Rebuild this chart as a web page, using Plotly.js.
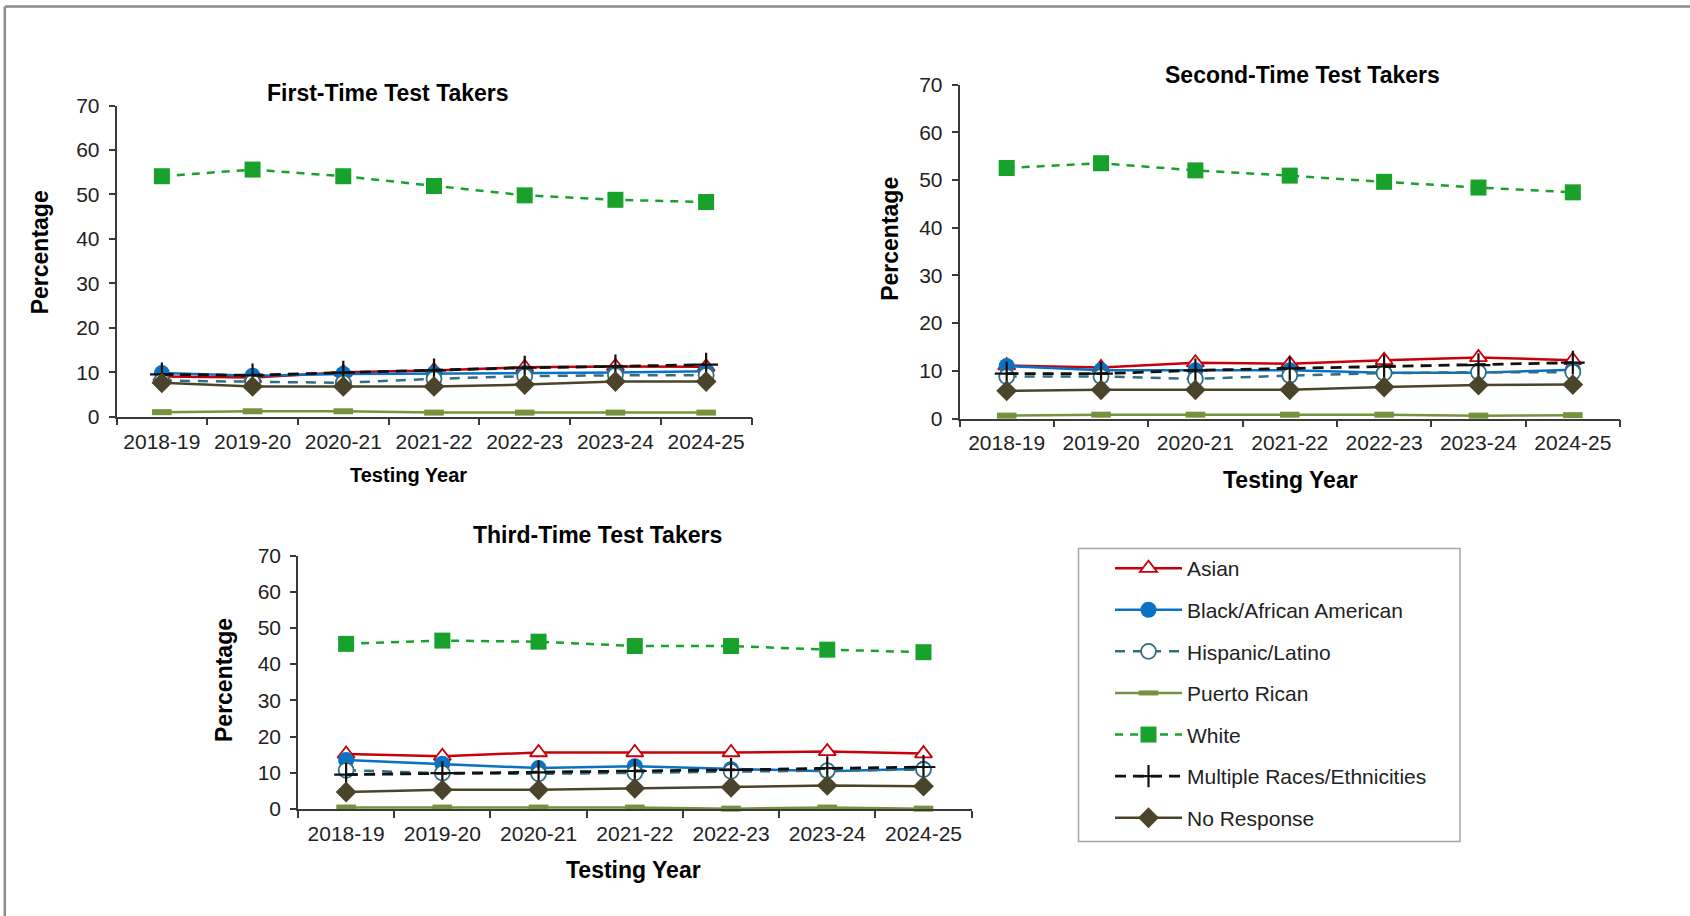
<!DOCTYPE html>
<html>
<head>
<meta charset="utf-8">
<script src="https://cdn.plot.ly/plotly-3.0.1.min.js"></script>
<style>
  html, body { margin: 0; padding: 0; background: #ffffff; }
  #chart { width: 1690px; height: 916px; }
</style>
</head>
<body>
<div id="chart"></div>
<script>
// ---------- DATA ----------
const years = ["2018-19", "2019-20", "2020-21", "2021-22", "2022-23", "2023-24", "2024-25"];
const seriesNames = ["Asian", "Black/African American", "Hispanic/Latino", "Puerto Rican", "White", "Multiple Races/Ethnicities", "No Response"];
const panelTitles = ["First-Time Test Takers", "Second-Time Test Takers", "Third-Time Test Takers"];
const yTicks = [0, 10, 20, 30, 40, 50, 60, 70];

// First-time test takers
const firstAsian    = [9.0, 8.8, 10.0, 10.4, 11.1, 11.3, 11.2];
const firstBlack    = [9.8, 9.2, 9.6, 9.7, 9.8, 9.9, 10.2];
const firstHispanic = [8.1, 7.8, 7.6, 8.5, 9.1, 9.3, 9.3];
const firstPR       = [1.0, 1.2, 1.2, 0.9, 0.9, 0.9, 0.9];
const firstWhite    = [54.1, 55.6, 54.1, 51.9, 49.8, 48.8, 48.3];
const firstMultiple = [9.5, 9.3, 9.9, 10.4, 11.0, 11.3, 11.7];
const firstNoResp   = [7.6, 6.8, 6.8, 6.8, 7.2, 7.9, 7.9];

// Second-time test takers
const secondAsian    = [11.1, 10.7, 11.7, 11.5, 12.2, 12.8, 12.2];
const secondBlack    = [11.0, 10.1, 10.1, 10.1, 9.6, 9.6, 10.2];
const secondHispanic = [8.8, 8.8, 8.3, 9.0, 9.5, 9.7, 9.7];
const secondPR       = [0.6, 0.8, 0.8, 0.8, 0.8, 0.6, 0.7];
const secondWhite    = [52.5, 53.5, 52.0, 50.9, 49.6, 48.4, 47.4];
const secondMultiple = [9.4, 9.4, 10.1, 10.5, 10.9, 11.2, 11.7];
const secondNoResp   = [5.8, 6.0, 6.0, 6.0, 6.6, 7.0, 7.1];

// Third-time test takers
const thirdAsian    = [15.2, 14.6, 15.6, 15.6, 15.6, 15.9, 15.3];
const thirdBlack    = [13.5, 12.5, 11.3, 11.8, 11.0, 10.4, 11.1];
const thirdHispanic = [10.7, 9.9, 9.7, 10.0, 10.4, 10.6, 10.9];
const thirdPR       = [0.4, 0.4, 0.4, 0.4, 0.1, 0.4, 0.1];
const thirdWhite    = [45.6, 46.5, 46.2, 45.0, 45.0, 44.0, 43.3];
const thirdMultiple = [9.5, 9.9, 10.1, 10.5, 10.8, 11.3, 11.6];
const thirdNoResp   = [4.7, 5.3, 5.3, 5.7, 6.0, 6.5, 6.3];

const panels = [
  [firstAsian, firstBlack, firstHispanic, firstPR, firstWhite, firstMultiple, firstNoResp],
  [secondAsian, secondBlack, secondHispanic, secondPR, secondWhite, secondMultiple, secondNoResp],
  [thirdAsian, thirdBlack, thirdHispanic, thirdPR, thirdWhite, thirdMultiple, thirdNoResp]
];

// ---------- STYLES ----------
const RED = "#C8000A", BLUE = "#0A72C4", TEAL = "#336E80", OLIVE = "#76923C",
      GREEN = "#18A22C", BLACK = "#111111", BROWN = "#4A452A";

const styles = [
  { line: { color: RED, width: 2.5 }, marker: { symbol: "triangle-up", size: 15, color: "#ffffff", line: { color: RED, width: 1.8 } } },
  { line: { color: BLUE, width: 2.5 }, marker: { symbol: "circle", size: 16, color: BLUE, line: { width: 0 } } },
  { line: { color: TEAL, width: 2.5, dash: "10px,8px" }, marker: { symbol: "circle", size: 15, color: "#ffffff", line: { color: TEAL, width: 1.8 } } },
  { line: { color: OLIVE, width: 2.5 }, marker: { symbol: "line-ew", size: 14, color: OLIVE, line: { color: OLIVE, width: 6 } } },
  { line: { color: GREEN, width: 2.5, dash: "8px,7px" }, marker: { symbol: "square", size: 16, color: GREEN, line: { width: 0 } } },
  { line: { color: BLACK, width: 2.8, dash: "11px,7px" }, marker: { symbol: "cross-thin", size: 17, color: BLACK, line: { color: BLACK, width: 2.2 } } },
  { line: { color: BROWN, width: 2.5 }, marker: { symbol: "diamond", size: 16, color: BROWN, line: { width: 0 } } }
];

// ---------- GEOMETRY (pixels -> paper) ----------
const W = 1690, H = 916;
const px = v => v / W;
const py = v => 1 - v / H;

const axesPx = [
  { x0: 116.5, x1: 751.5, yTop: 105.6, yBot: 416.6 },
  { x0: 959.5, x1: 1620, yTop: 84.5, yBot: 418.5 },
  { x0: 298, x1: 971.6, yTop: 555.5, yBot: 809 }
];

const FONT = "Arial, 'Liberation Sans', sans-serif";
const TXT = "#222222";
const AXC = "#3a3a3a";

const traces = [];
panels.forEach((vals, p) => {
  const xa = p === 0 ? "x" : "x" + (p + 1);
  const ya = p === 0 ? "y" : "y" + (p + 1);
  vals.forEach((arr, s) => {
    traces.push({
      type: "scatter",
      mode: "lines+markers",
      x: years,
      y: arr,
      xaxis: xa,
      yaxis: ya,
      name: seriesNames[s],
      legendgroup: seriesNames[s],
      showlegend: p === 0,
      line: styles[s].line,
      marker: styles[s].marker,
      cliponaxis: false,
      hovertemplate: "%{x}: %{y}%<extra>" + seriesNames[s] + "</extra>"
    });
  });
});

const layout = {
  width: W, height: H,
  margin: { l: 0, r: 0, t: 0, b: 0, pad: 0 },
  paper_bgcolor: "#ffffff",
  plot_bgcolor: "rgba(0,0,0,0)",
  font: { family: FONT, color: TXT, size: 21 },
  showlegend: true,
  legend: {
    x: px(1110), y: py(548), xanchor: "left", yanchor: "top",
    bgcolor: "rgba(0,0,0,0)", borderwidth: 0,
    font: { family: FONT, size: 21, color: TXT },
    itemwidth: 67,
    tracegroupgap: 11.3,
    traceorder: "grouped",
    itemclick: "toggle"
  },
  annotations: [],
  shapes: [
    // frame of the figure
    { type: "line", xref: "paper", yref: "paper", x0: px(5), x1: 1, y0: py(6.5), y1: py(6.5), line: { color: "#8a8a8a", width: 2.5 } },
    { type: "line", xref: "paper", yref: "paper", x0: px(4.8), x1: px(4.8), y0: py(6.5), y1: 0, line: { color: "#8a8a8a", width: 2.5 } },
    // legend box
    { type: "rect", xref: "paper", yref: "paper", x0: px(1078.5), x1: px(1460), y0: py(548.5), y1: py(841.5), line: { color: "#a6a6a6", width: 1.5 }, fillcolor: "rgba(0,0,0,0)" }
  ]
};

axesPx.forEach((a, p) => {
  const xk = p === 0 ? "xaxis" : "xaxis" + (p + 1);
  const yk = p === 0 ? "yaxis" : "yaxis" + (p + 1);
  const yAnchor = p === 0 ? "y" : "y" + (p + 1);
  const xAnchor = p === 0 ? "x" : "x" + (p + 1);
  layout[xk] = {
    domain: [px(a.x0), px(a.x1)],
    anchor: yAnchor,
    type: "category",
    range: [-0.5, years.length - 0.5],
    showline: true, linecolor: AXC, linewidth: 1.5,
    ticks: "outside", tickson: "boundaries", ticklen: 7, tickcolor: AXC, tickwidth: 1.5,
    ticklabelstandoff: 5,
    showgrid: false, zeroline: false,
    tickfont: { family: FONT, size: 21, color: TXT },
    fixedrange: true
  };
  layout[yk] = {
    domain: [py(a.yBot), py(a.yTop)],
    anchor: xAnchor,
    range: [0, 70],
    tickmode: "array", tickvals: yTicks, ticktext: yTicks.map(String),
    showline: true, linecolor: AXC, linewidth: 1.5,
    ticks: "outside", ticklen: 6, tickcolor: AXC, tickwidth: 1.5,
    ticklabelstandoff: 5,
    showgrid: false, zeroline: false,
    tickfont: { family: FONT, size: 21, color: TXT },
    fixedrange: true
  };
});

// Titles (panel, x-axis, y-axis)
const titlePos = [
  { t: [387.8, 93.3], xt: [408, 475, 20], yt: [39.5, 252.8] },
  { t: [1302.5, 75], xt: [1290.6, 480, 23], yt: [890, 238.8] },
  { t: [597.7, 534.5], xt: [633, 870, 23], yt: [224.7, 680.3] }
];
titlePos.forEach((tp, p) => {
  layout.annotations.push({
    text: "<b>" + panelTitles[p] + "</b>", xref: "paper", yref: "paper",
    x: px(tp.t[0]), y: py(tp.t[1]), xanchor: "center", yanchor: "middle",
    showarrow: false, font: { family: FONT, size: 23, color: "#000000" }
  });
  layout.annotations.push({
    text: "<b>Testing Year</b>", xref: "paper", yref: "paper",
    x: px(tp.xt[0]), y: py(tp.xt[1]), xanchor: "center", yanchor: "middle",
    showarrow: false, font: { family: FONT, size: tp.xt[2], color: "#000000" }
  });
  layout.annotations.push({
    text: "<b>Percentage</b>", xref: "paper", yref: "paper",
    x: px(tp.yt[0]), y: py(tp.yt[1]), xanchor: "center", yanchor: "middle",
    textangle: -90,
    showarrow: false, font: { family: FONT, size: 23, color: "#000000" }
  });
});

Plotly.newPlot("chart", traces, layout, { displayModeBar: false, responsive: false });
</script>
</body>
</html>
